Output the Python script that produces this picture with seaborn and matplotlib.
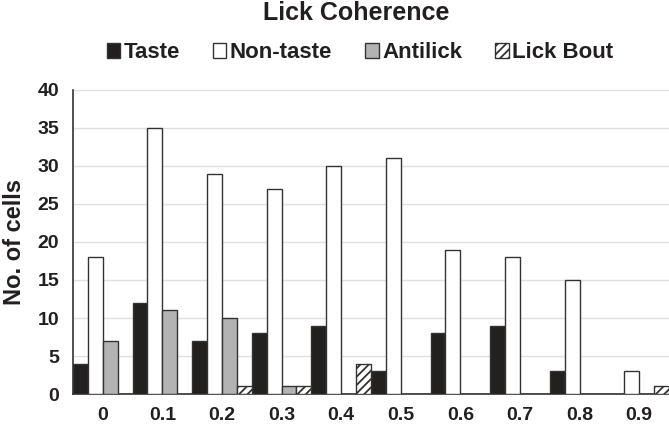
import matplotlib
matplotlib.use("Agg")
import matplotlib.pyplot as plt
import numpy as np
import pandas as pd
import seaborn as sns
from matplotlib.patches import Patch

bins = ["0", "0.1", "0.2", "0.3", "0.4", "0.5", "0.6", "0.7", "0.8", "0.9"]
taste = [4, 12, 7, 8, 9, 3, 8, 9, 3, 0]
non_taste = [18, 35, 29, 27, 30, 31, 19, 18, 15, 3]
antilick = [7, 11, 10, 1, 0, 0, 0, 0, 0, 0]
lick_bout = [0, 0, 1, 1, 4, 0, 0, 0, 0, 1]

groups = ["Taste", "Non-taste", "Antilick", "Lick Bout"]
colors = ["#231f20", "#ffffff", "#b3b3b3", "#ffffff"]

df = pd.DataFrame({"bin": bins, "Taste": taste, "Non-taste": non_taste,
                   "Antilick": antilick, "Lick Bout": lick_bout})
long_df = df.melt(id_vars="bin", var_name="group", value_name="cells")

sns.set_style("white")
plt.rcParams["font.family"] = ["Liberation Sans", "DejaVu Sans"]
plt.rcParams["hatch.linewidth"] = 1.3
plt.rcParams["hatch.color"] = "#333333"

fig = plt.figure(figsize=(6.69, 4.26), dpi=100)
ax = fig.add_axes([0.109, 0.075, 0.891, 0.714])

sns.barplot(data=long_df, x="bin", y="cells", hue="group", hue_order=groups,
            palette=colors, order=bins, width=1.0, gap=0, edgecolor="#333333",
            linewidth=1.0, legend=False, ax=ax, zorder=3)

# hatch the lick bout bars
for bar in ax.containers[3]:
    bar.set_hatch("////")

ax.set_ylim(0, 40)
ax.set_xlim(-0.5, len(bins) - 0.5)
ax.set_yticks(range(0, 41, 5))
ax.yaxis.grid(True, color="#e0e0e0", linewidth=1.0, zorder=0)
ax.set_axisbelow(True)

for side in ["top", "right"]:
    ax.spines[side].set_visible(False)
for side in ["left", "bottom"]:
    ax.spines[side].set_color("#333333")
    ax.spines[side].set_linewidth(1.2)

ax.set_xticks(np.arange(len(bins)))
ax.set_xticklabels(bins)
ax.set_xticks(np.arange(len(bins)) + 0.5, minor=True)
ax.tick_params(axis="x", which="major", length=0, pad=9.5)
ax.tick_params(axis="x", which="minor", length=6, width=1.2, color="#333333", direction="out")
ax.tick_params(axis="y", length=7, width=1.2, color="#333333", direction="out", pad=3)
for lab in ax.get_xticklabels() + ax.get_yticklabels():
    lab.set_fontweight("bold")
    lab.set_fontsize(14)
    lab.set_color("#231f20")

ax.set_xlabel("")
ax.set_ylabel("No. of cells", fontsize=17, fontweight="bold", color="#231f20", labelpad=8)

fig.text(0.532, 0.970, "Lick Coherence", ha="center", va="center",
         fontsize=18, fontweight="bold", color="#231f20")

handles = [Patch(facecolor=c, edgecolor="#333333", linewidth=1.0,
                 hatch="////" if g == "Lick Bout" else None)
           for g, c in zip(groups, colors)]
leg = fig.legend(handles, groups, loc="center", bbox_to_anchor=(0.538, 0.876), ncol=4,
                 frameon=False, handlelength=0.6, handleheight=0.6, handletextpad=0.15,
                 columnspacing=1.5, prop={"weight": "bold", "size": 16})
for t in leg.get_texts():
    t.set_color("#231f20")

fig.savefig("out.png", dpi=100)
